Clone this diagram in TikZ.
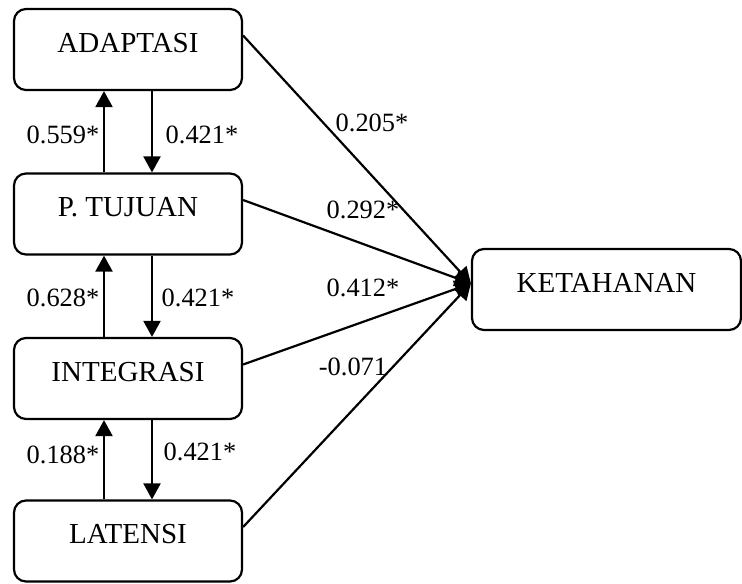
\documentclass[tikz,border=0pt]{standalone}
\usepackage{fontspec}
\setmainfont{Liberation Serif}
\usetikzlibrary{arrows.meta}
\begin{document}
\begin{tikzpicture}[x=0.5pt,y=-0.5pt] % path diagram of the four factors
\tikzstyle{every node}+=[inner sep=0pt]
\tikzstyle{var}=[draw,black,line width=1.1pt,rounded corners=6pt,minimum width=114pt,minimum height=40.5pt,font=\fontsize{14.5}{17}\selectfont,text height=9.6pt,text depth=7pt]
\tikzstyle{coef}=[font=\fontsize{13.2}{16}\selectfont]
\tikzstyle{path}=[black,line width=1.1pt,-{Triangle[length=8pt,width=8.5pt]}]
\useasboundingbox (0,0) rectangle (742,583);
\node [var] (A) at (128,49.5) {ADAPTASI};
\node [var] (P) at (128,214) {P. TUJUAN};
\node [var] (I) at (128,378.5) {INTEGRASI};
\node [var] (L) at (128,541) {LATENSI};
\node [var,minimum width=134.5pt] (K) at (606.5,289.5) {KETAHANAN};
\draw [path] ([xshift=-12pt]P.north) -- ([xshift=-12pt]A.south);
\draw [path] ([xshift=12pt]A.south) -- ([xshift=12pt]P.north);
\draw [path] ([xshift=-12pt]I.north) -- ([xshift=-12pt]P.south);
\draw [path] ([xshift=12pt]P.south) -- ([xshift=12pt]I.north);
\draw [path] ([xshift=-12pt]L.north) -- ([xshift=-12pt]I.south);
\draw [path] ([xshift=12pt]I.south) -- ([xshift=12pt]L.north);
\node [coef] (a1) at (63,135) {0.559*};
\node [coef] (a2) at (202,135) {0.421*};
\node [coef] (b1) at (63,298) {0.628*};
\node [coef] (b2) at (198,298) {0.421*};
\node [coef] (c1) at (63,455) {0.188*};
\node [coef] (c2) at (200,452) {0.421*};
% paths to KETAHANAN
\coordinate (k) at ([yshift=3pt]K.west);
\draw [path] ([yshift=7pt]A.east) -- (k);
\draw [path] ([yshift=7pt]P.east) -- (k);
\draw [path] ([yshift=7pt]I.east) -- (k);
\draw [path] ([yshift=7pt]L.east) -- (k);
\node [coef] (d1) at (372,123) {0.205*};
\node [coef] (d2) at (363,210) {0.292*};
\node [coef] (d3) at (363,288) {0.412*};
\node [coef] (d4) at (353,367) {-0.071};
\end{tikzpicture}
\end{document}
